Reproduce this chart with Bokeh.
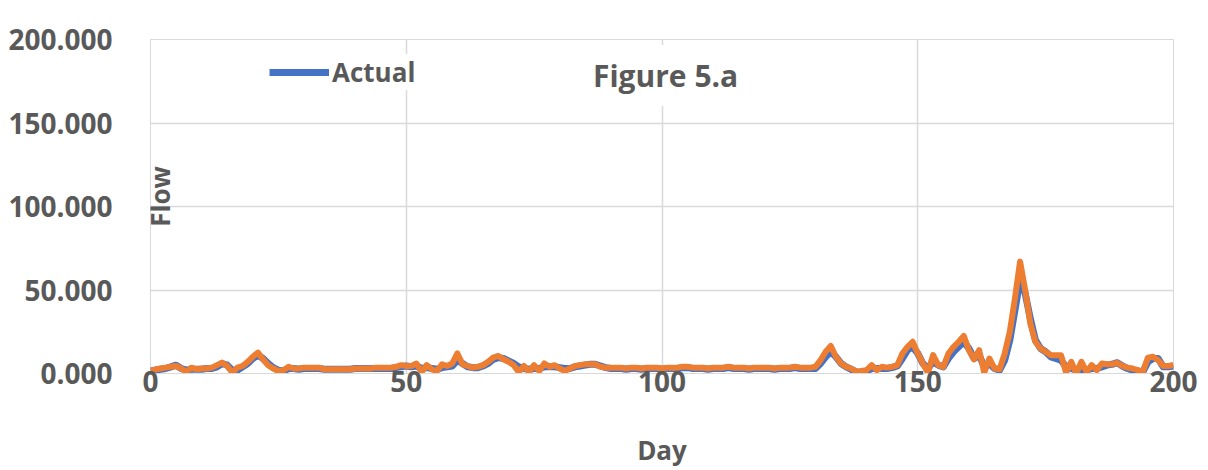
from bokeh.plotting import figure
from bokeh.models import ColumnDataSource, FixedTicker, PrintfTickFormatter, Legend, LegendItem, Label, Range1d
from bokeh.embed import file_html
from bokeh.resources import INLINE
import math

days = list(range(0, 201))

actual = [
    1.5, 2, 2.5, 3, 4, 5, 3, 2, 2.5, 2.5,
    2.5, 3, 3, 4, 6, 5, 2, 2, 4, 6,
    9, 11, 9, 6, 3.5, 2, 1.5, 3, 3, 2.5,
    3, 3, 3, 3, 2.5, 2.5, 2.5, 2.5, 2.5, 2.5,
    3, 3, 3, 3, 3, 3, 3, 3, 3.5, 4,
    4.5, 4, 4.5, 3, 3.5, 3, 2.5, 3.5, 4, 4.5,
    8, 6, 4, 3.5, 3.5, 4.5, 6, 8.5, 9.5, 9,
    7.5, 6, 4, 3, 2.5, 3, 3, 4, 4, 4,
    3.5, 3, 3, 4, 4.5, 5, 5.5, 5.5, 4.5, 3.5,
    3, 3, 3, 2.5, 3, 3, 2.5, 3, 3, 3,
    2.5, 3, 3, 3, 3.5, 3.5, 3, 3, 3, 2.5,
    3, 3, 3, 3.5, 3, 3, 3, 2.5, 3, 3,
    3, 3, 2.5, 3, 3, 3, 3.5, 3, 3, 3,
    3, 6, 10, 13, 10, 6, 4, 2.5, 1, 0.5,
    1.5, 3, 3, 3, 3, 3.5, 4.5, 9, 14, 16,
    12, 6, 3, 7, 5, 4, 9, 13, 16, 19,
    15, 9, 11, 4, 6, 3, 2, 8, 20, 38,
    56, 48, 33, 20, 15, 13, 10, 9, 8, 4,
    3, 2, 3, 2, 3, 3, 4, 5, 5.5, 6.5,
    4.5, 3, 2, 1.5, 1, 7, 9, 9, 4, 4, 4.5,
]

predicted = [
    1.5, 2.5, 3, 3.5, 4, 4.5, 3, 1, 3.5, 2.5,
    3, 3, 3.5, 5, 6.5, 4.5, 0.5, 3.5, 4.5, 7,
    10, 12.5, 8.5, 5, 3, 1.5, 2, 4, 3, 3,
    3.5, 3.5, 3.5, 3.5, 2.5, 2.5, 2.5, 2.5, 2.5, 2.5,
    3, 3, 3, 3, 3.5, 3.5, 3.5, 3.5, 4, 5,
    4.5, 4.5, 6, 1, 5, 2.5, 1.5, 5.5, 4.5, 6,
    12, 5.5, 4.5, 3.5, 4, 5, 7, 9.5, 10.5, 8.5,
    7, 5, 1, 4.5, 1, 5, 1.5, 6, 4, 5,
    3, 1.5, 3, 4.5, 5, 5.5, 5.5, 5.5, 4, 3.5,
    3.5, 3.5, 3.5, 3, 3.5, 3.5, 3, 3.5, 3.5, 3.5,
    3, 3.5, 3.5, 3.5, 4, 4, 3.5, 3.5, 3.5, 3,
    3.5, 3.5, 3.5, 4, 3.5, 3.5, 3.5, 3, 3.5, 3.5,
    3.5, 3.5, 3, 3.5, 3.5, 3.5, 4, 3.5, 3.5, 3.5,
    4, 8, 13, 16.5, 10, 6, 4, 3, 1, 1.5,
    2, 5, 2, 4, 3.5, 4, 5, 12, 16, 19,
    12, 6, 0.5, 11, 5, 4, 12, 16, 19, 22.5,
    14, 8.5, 14, 0.5, 9, 3, 2.5, 12, 25, 45,
    67, 50, 30, 19, 15, 13, 11, 11, 11, 0.5,
    7, 0, 7, 1, 5, 2, 6, 5.5, 5.5, 6.5,
    4.5, 3.5, 3, 2, 1, 9.5, 10, 8, 4.5, 4.5, 5,
]

y_ticks = [0, 50, 100, 150, 200]
x_ticks = [0, 50, 100, 150, 200]

FONT = "Open Sans"
TXT = "#595959"
GRID = "#d9d9d9"

src = ColumnDataSource(dict(day=days, actual=actual, predicted=predicted))

p = figure(width=1208, height=470, output_backend="svg", toolbar_location=None,
           x_range=Range1d(0, 200), y_range=Range1d(0, 200),
           min_border_left=150, min_border_top=39, min_border_right=35, min_border_bottom=96)
p.outline_line_color = GRID
p.background_fill_color = "white"
p.border_fill_color = "white"

r_act = p.line("day", "actual", source=src, line_color="#4472C4", line_width=7, line_join="round")
r_pred = p.line("day", "predicted", source=src, line_color="#ED7D31", line_width=6, line_join="round")

for ax in (p.xaxis[0], p.yaxis[0]):
    ax.major_label_text_font = FONT
    ax.major_label_text_font_style = "bold"
    ax.major_label_text_font_size = "28px"
    ax.major_label_text_color = TXT
    ax.major_tick_line_color = None
    ax.minor_tick_line_color = None

p.yaxis.axis_line_color = None
p.xaxis.axis_line_color = GRID
p.yaxis.ticker = FixedTicker(ticks=y_ticks)
p.xaxis.ticker = FixedTicker(ticks=x_ticks)
p.yaxis.formatter = PrintfTickFormatter(format="%.3f")
p.yaxis.major_label_standoff = 32
p.xaxis.major_label_standoff = -9

p.xaxis.axis_label = "Day"
p.xaxis.axis_label_text_font = FONT
p.xaxis.axis_label_text_font_style = "bold"
p.xaxis.axis_label_text_font_size = "26px"
p.xaxis.axis_label_text_color = TXT
p.xaxis.axis_label_standoff = 37

p.xgrid.grid_line_color = GRID
p.ygrid.grid_line_color = GRID
p.xgrid.grid_line_width = 1.5
p.ygrid.grid_line_width = 1.5

flow = Label(x=1.8, y=106, text="Flow", angle=math.pi / 2, text_align="center",
             text_baseline="middle", text_font=FONT, text_font_style="bold",
             text_font_size="26px", text_color=TXT)
p.add_layout(flow)

title = Label(x=100.7, y=178.5, text="Figure 5.a", text_align="center",
              text_baseline="middle", text_font=FONT, text_font_style="bold",
              text_font_size="30px", text_color=TXT,
              background_fill_color="white", padding=10)
p.add_layout(title)

legend = Legend(items=[LegendItem(label="Actual", renderers=[r_act])],
                location=(119, 283), orientation="horizontal",
                label_text_font=FONT, label_text_font_style="bold",
                label_text_font_size="26px", label_text_color=TXT,
                glyph_width=60, glyph_height=30, label_standoff=3,
                padding=8, border_line_color=None, background_fill_color="white",
                background_fill_alpha=1.0)
p.add_layout(legend)

open("out.html", "w").write(file_html(p, INLINE))
